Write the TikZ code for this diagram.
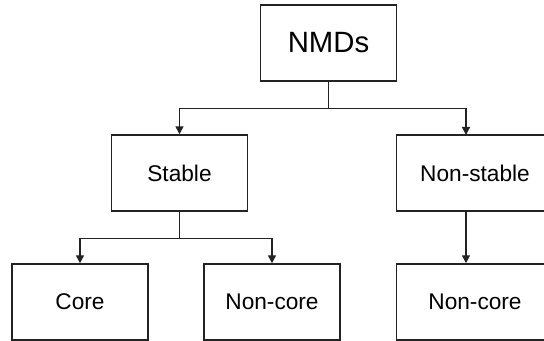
\documentclass[tikz,border=0pt]{standalone}
\usepackage{fontspec}
\setmainfont{Liberation Sans}
\usetikzlibrary{arrows.meta,positioning}
\definecolor{boxline}{RGB}{35,35,35}

\begin{document}
\begin{tikzpicture}[
    x=0.75pt, y=-0.75pt,
    box/.style={rectangle, draw=boxline, line width=1.1pt, fill=white, inner sep=0pt, minimum width=102pt, minimum height=57pt, font=\fontsize{17}{21}\selectfont},
    arrow/.style={-{Triangle[length=6pt,width=6pt]}, line width=1.1pt, draw=boxline}
  ]
    \clip (0,0) rectangle (544,341);
    \node[box, font=\fontsize{22}{27}\selectfont] (nmds) at (328.5,43) {NMDs};
    \node[box] (stable) at (179.5,173) {Stable};
    \node[box, minimum width=118pt] (nstable) at (475,173) {Non-stable};
    \node[box] (core) at (80,302) {Core};
    \node[box] (ncore) at (272,302) {Non-core};
    \node[box, minimum width=118pt] (ncorer) at (475,302) {Non-core};
    \coordinate (nsin) at (466,135);

    \draw[arrow] (nmds.south) -- ++(0,27) -| (stable.north);
    \draw[arrow] (nmds.south) -- ++(0,27) -| (nsin);
    \draw[arrow] (stable.south) -- ++(0,27) -| (core.north);
    \draw[arrow] (stable.south) -- ++(0,27) -| (ncore.north);
    \draw[arrow] (nstable.south -| nsin) -- (ncorer.north -| nsin);
  \end{tikzpicture}
\end{document}
